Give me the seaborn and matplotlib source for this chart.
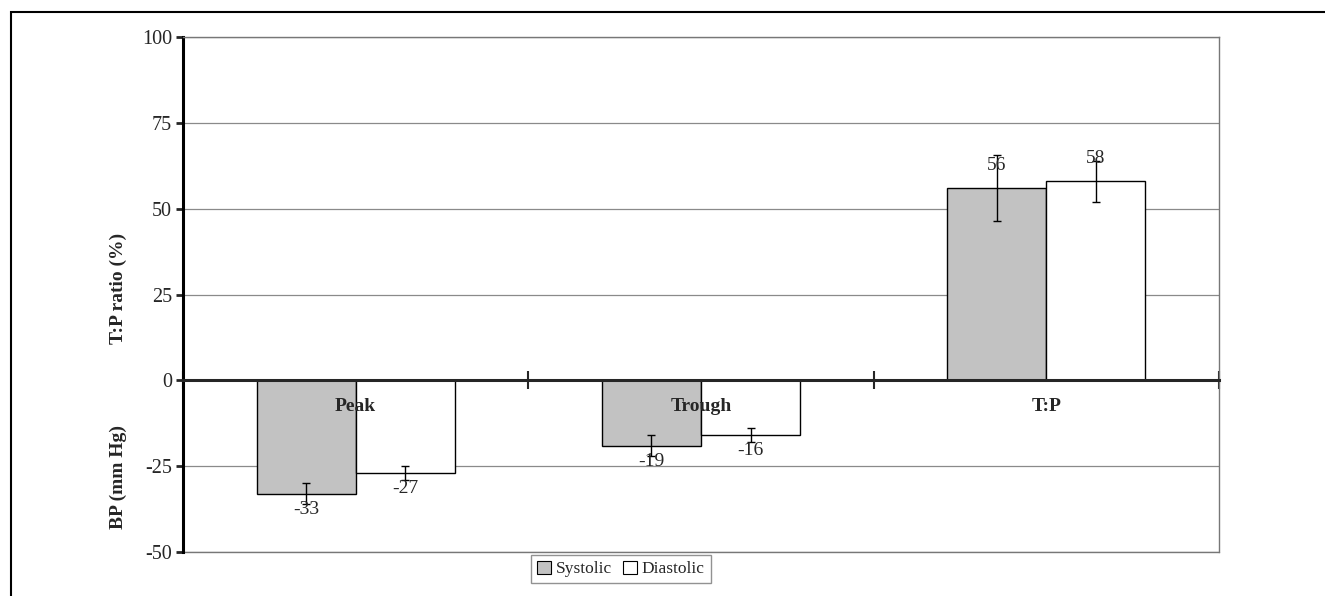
import numpy as np
import pandas as pd
import seaborn as sns
import matplotlib.pyplot as plt
from matplotlib.patches import Patch, Rectangle

# values
categories = ['Peak', 'Trough', 'T:P']
series = ['Systolic', 'Diastolic']
systolic = [-33, -19, 56]
diastolic = [-27, -16, 58]
systolic_err = [3, 3, 9.5]
diastolic_err = [2, 2, 6]
yticks = [-50, -25, 0, 25, 50, 75, 100]

df = pd.DataFrame({
    'cat': categories * 2,
    'value': systolic + diastolic,
    'err': systolic_err + diastolic_err,
    'series': [series[0]] * 3 + [series[1]] * 3,
})

sns.set_style('white')
plt.rcParams['font.family'] = ['Liberation Serif', 'DejaVu Serif']
plt.rcParams['axes.unicode_minus'] = False

colors = {'Systolic': '#c2c2c2', 'Diastolic': 'white'}

fig = plt.figure(figsize=(13.25, 5.96), dpi=100)
ax = fig.add_axes([0.1381, 0.0738, 0.7819, 0.8641])
sns.barplot(data=df, x='cat', y='value', hue='series', hue_order=series,
            palette=colors, edgecolor='black', linewidth=1, width=0.574,
            errorbar=None, legend=False, ax=ax, zorder=3)

# error bars + value labels
for cont, name in zip(ax.containers, series):
    sub = df[df['series'] == name]
    for bar, v, e in zip(cont, sub['value'], sub['err']):
        xc = bar.get_x() + bar.get_width() / 2
        ax.errorbar(xc, v, yerr=e, color='black', lw=1, capsize=3, capthick=1, zorder=4)
        ty = v + 6.5 if v > 0 else v - 4.5
        ax.text(xc, ty, str(v), ha='center', va='center', fontsize=14, zorder=5)

ax.set_xlim(-0.5, 2.5)
ax.set_ylim(-50, 100)
ax.set_yticks(yticks)
ax.set_yticklabels([str(t) for t in yticks], fontsize=14.5)
ax.tick_params(axis='y', direction='out', length=5, width=2, pad=3, left=True)

# category axis at zero, boundary ticks crossing it
ax.spines['bottom'].set_position(('data', 0))
ax.spines['bottom'].set_linewidth(2.2)
ax.spines['bottom'].set_zorder(6)
ax.set_xticks([-0.5, 0.5, 1.5, 2.5])
ax.set_xticklabels([])
ax.tick_params(axis='x', which='major', direction='inout', length=13, width=1.5, bottom=True)
ax.set_xlabel('')
ax.set_ylabel('')

# category names sit just under the zero line, on top of the bars
for i, c in enumerate(categories):
    ax.annotate(c, xy=(i, 0), xytext=(0, -13), textcoords='offset points',
                ha='center', va='top', fontsize=14, fontweight='bold', zorder=7)

ax.spines['left'].set_linewidth(2.2)
ax.spines['left'].set_color('black')
for s in ['top', 'right']:
    ax.spines[s].set_color('#777777')
    ax.spines[s].set_linewidth(1)
ax.yaxis.grid(True, color='#8a8a8a', lw=0.9)
ax.axhline(-50, color='#777777', lw=1, clip_on=False, zorder=1)
ax.set_axisbelow(True)

fig.text(118 / 1325, 1 - 288 / 596, 'T:P ratio (%)', rotation=90, ha='center', va='center',
         fontsize=14, fontweight='bold')
fig.text(118 / 1325, 1 - 477 / 596, 'BP (mm Hg)', rotation=90, ha='center', va='center',
         fontsize=14, fontweight='bold')

handles = [Patch(facecolor=colors[s], edgecolor='black', lw=0.8, label=s) for s in series]
leg = fig.legend(handles=handles, loc='center', bbox_to_anchor=(621 / 1325, 1 - 569 / 596),
                 ncol=2, fontsize=12.5, frameon=True, fancybox=False, handlelength=0.8,
                 handleheight=0.8, handletextpad=0.3, columnspacing=0.6, borderpad=0.35)
leg.get_frame().set_edgecolor('#777777')
leg.get_frame().set_linewidth(1)

# outer frame of the page
fig.add_artist(Rectangle((11 / 1325, -0.2), 2, 1 - 12 / 596 + 0.2, transform=fig.transFigure,
                         fill=False, edgecolor='black', lw=1.5))

fig.savefig('out.png', dpi=100)
